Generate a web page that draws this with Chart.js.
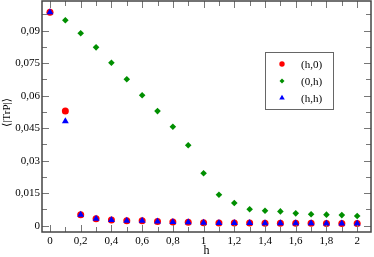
<!DOCTYPE html>
<html>
<head>
<meta charset="utf-8">
<script src="https://cdn.jsdelivr.net/npm/chart.js@4.4.1/dist/chart.umd.min.js"></script>
<style>
  html, body { margin: 0; padding: 0; background: #fff; }
  #wrap { width: 374px; height: 257px; }
</style>
</head>
<body>
<div id="wrap"><canvas id="chartCanvas" width="374" height="257"></canvas></div>
<script>
// h values along the x axis
var hValues = [0, 0.1, 0.2, 0.3, 0.4, 0.5, 0.6, 0.7, 0.8, 0.9, 1.0,
               1.1, 1.2, 1.3, 1.4, 1.5, 1.6, 1.7, 1.8, 1.9, 2.0];
// <|TrP|> for the three directions
var valsH0 = [0.0985, 0.0529, 0.0051, 0.0032, 0.0026, 0.0023, 0.0023, 0.0020, 0.0017, 0.0016, 0.0014,
              0.0013, 0.0012, 0.0012, 0.0011, 0.0011, 0.0011, 0.0011, 0.0010, 0.0010, 0.0010];
var vals0H = [0.0985, 0.0948, 0.0888, 0.0823, 0.0752, 0.0676, 0.0602, 0.0529, 0.0457, 0.0371, 0.0242,
              0.0143, 0.0105, 0.0076, 0.0069, 0.0066, 0.0057, 0.0053, 0.0051, 0.0049, 0.0045];
var valsHH = [0.0985, 0.0482, 0.0051, 0.0032, 0.0026, 0.0023, 0.0023, 0.0020, 0.0017, 0.0016, 0.0014,
              0.0013, 0.0012, 0.0012, 0.0011, 0.0011, 0.0011, 0.0011, 0.0010, 0.0010, 0.0010];
var seriesLabels = ['(h,0)', '(0,h)', '(h,h)'];

var xTicks = [0, 0.2, 0.4, 0.6, 0.8, 1, 1.2, 1.4, 1.6, 1.8, 2];
var xMinorTicks = [0.1, 0.3, 0.5, 0.7, 0.9, 1.1, 1.3, 1.5, 1.7, 1.9];
var yTicks = [0, 0.015, 0.03, 0.045, 0.06, 0.075, 0.09];
var yMinorTicks = [0.0075, 0.0225, 0.0375, 0.0525, 0.0675, 0.0825, 0.0975];
var xTitle = 'h';
var yTitle = '\u27E8|TrP|\u27E9';

var FONT = '"Liberation Serif", "DejaVu Serif", serif';

function toPoints(xs, ys) {
  var pts = [];
  for (var i = 0; i < xs.length; i++) pts.push({x: xs[i], y: ys[i]});
  return pts;
}

function commaNum(v) {
  return String(Math.round(v * 10000) / 10000).replace('.', ',');
}

function noPad(scale) {
  scale.paddingTop = 0;
  scale.paddingBottom = 0;
  scale.paddingLeft = 0;
  scale.paddingRight = 0;
}

// frame, inward ticks, axis titles and the boxed legend
var framePlugin = {
  id: 'frame',
  afterDatasetsDraw: function(chart) {
    var ctx = chart.ctx, a = chart.chartArea;
    var xs = chart.scales.x, ys = chart.scales.y;
    ctx.save();
    ctx.strokeStyle = '#777';
    ctx.lineWidth = 1;
    function tickX(list, len) {
      list.forEach(function(v) {
        var px = Math.round(xs.getPixelForValue(v)) + 0.5;
        ctx.beginPath();
        ctx.moveTo(px, a.bottom); ctx.lineTo(px, a.bottom - len);
        ctx.moveTo(px, a.top); ctx.lineTo(px, a.top + len);
        ctx.stroke();
      });
    }
    function tickY(list, len) {
      list.forEach(function(v) {
        var py = Math.round(ys.getPixelForValue(v)) + 0.5;
        ctx.beginPath();
        ctx.moveTo(a.left, py); ctx.lineTo(a.left + len, py);
        ctx.moveTo(a.right, py); ctx.lineTo(a.right - len, py);
        ctx.stroke();
      });
    }
    tickX(xTicks, 7); tickX(xMinorTicks, 5);
    tickY(yTicks, 7); tickY(yMinorTicks, 5);
    ctx.strokeStyle = '#444';
    ctx.lineWidth = 1.5;
    ctx.strokeRect(a.left, a.top, a.right - a.left, a.bottom - a.top);

    // axis titles
    ctx.fillStyle = '#000';
    ctx.font = '12px ' + FONT;
    ctx.textAlign = 'center';
    ctx.textBaseline = 'middle';
    ctx.fillText(xTitle, (a.left + a.right) / 2, a.bottom + 19);
    ctx.save();
    ctx.translate(7, (a.top + a.bottom) / 2 - 4);
    ctx.rotate(-Math.PI / 2);
    ctx.font = '11px ' + FONT;
    ctx.fillText(yTitle, 0, 0);
    ctx.restore();

    // legend box
    var bx = a.left + 223, by = a.top + 51, bw = 68, bh = 57;
    ctx.lineWidth = 1;
    ctx.strokeStyle = '#666';
    ctx.fillStyle = '#fff';
    ctx.fillRect(bx, by, bw, bh);
    ctx.strokeRect(bx + 0.5, by + 0.5, bw, bh);
    ctx.font = '11px ' + FONT;
    ctx.textBaseline = 'middle';
    ctx.textAlign = 'left';
    [0, 1, 2].forEach(function(i, row) {
      var ds = chart.data.datasets[i];
      var cy = by + 12 + row * 17;
      ctx.fillStyle = ds.backgroundColor;
      ctx.strokeStyle = ds.borderColor;
      Chart.helpers.drawPoint(ctx, {pointStyle: ds.pointStyle, radius: ds.pointRadius - 0.8, rotation: 0, borderWidth: 0}, bx + 17, cy);
      ctx.fillStyle = '#000';
      ctx.fillText(ds.label, bx + 36, cy + 1);
    });
    ctx.restore();
  }
};

function makeChart() {
  var ctx = document.getElementById('chartCanvas').getContext('2d');
  var chart = new Chart(ctx, {
    type: 'scatter',
    data: {
      datasets: [
        {
          label: seriesLabels[0],
          data: toPoints(hValues, valsH0),
          pointStyle: 'circle',
          pointRadius: 3.5,
          backgroundColor: '#ff0000',
          borderColor: '#ff0000',
          borderWidth: 0,
          order: 2
        },
        {
          label: seriesLabels[1],
          data: toPoints(hValues, vals0H),
          pointStyle: 'rectRot',
          pointRadius: 3.3,
          backgroundColor: '#008f00',
          borderColor: '#008f00',
          borderWidth: 0,
          order: 3
        },
        {
          label: seriesLabels[2],
          data: toPoints(hValues, valsHH),
          pointStyle: 'triangle',
          pointRadius: 4,
          backgroundColor: '#0000ff',
          borderColor: '#0000ff',
          borderWidth: 0,
          order: 1
        }
      ]
    },
    options: {
      responsive: false,
      animation: false,
      events: [],
      layout: { padding: { top: 1, right: 3, left: 0, bottom: 0 }, autoPadding: false },
      plugins: {
        legend: { display: false },
        tooltip: { enabled: false }
      },
      scales: {
        x: {
          type: 'linear',
          min: -0.052,
          max: 2.09,
          grid: { display: false, drawTicks: false },
          border: { display: false },
          afterBuildTicks: function(scale) {
            scale.ticks = xTicks.map(function(v) { return {value: v}; });
          },
          afterFit: function(scale) { scale.height = 25; noPad(scale); },
          ticks: {
            padding: 3,
            maxRotation: 0,
            autoSkip: false,
            color: '#000',
            font: { family: FONT, size: 11 },
            callback: function(v) { return commaNum(v); }
          }
        },
        y: {
          type: 'linear',
          min: -0.0029,
          max: 0.1037,
          grid: { display: false, drawTicks: false },
          border: { display: false },
          afterBuildTicks: function(scale) {
            scale.ticks = yTicks.map(function(v) { return {value: v}; });
          },
          afterFit: function(scale) { scale.width = 42; noPad(scale); },
          ticks: {
            padding: 2,
            autoSkip: false,
            color: '#000',
            font: { family: FONT, size: 11 },
            callback: function(v) { return commaNum(v); }
          }
        }
      }
    },
    plugins: [framePlugin]
  });
  return chart;
}

makeChart();
</script>
</body>
</html>
